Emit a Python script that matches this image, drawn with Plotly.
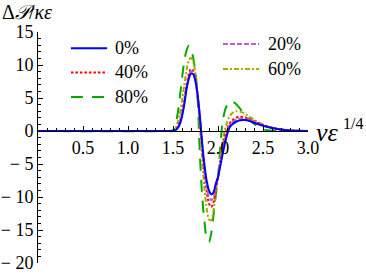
import plotly.graph_objects as go

# ---- data ----
x_vals = [0.0, 1.4, 1.5, 1.525, 1.55, 1.575, 1.6, 1.625, 1.65, 1.675, 1.7, 1.725, 1.75, 1.775,
          1.8, 1.825, 1.85, 1.875, 1.9, 1.925, 1.95, 1.975, 2.0, 2.025, 2.05, 2.075, 2.1,
          2.125, 2.15, 2.2, 2.25, 2.3, 2.35, 2.4, 2.5, 2.6, 2.7, 2.8, 2.9, 3.0]

y_0 = [0, 0, 0, 0.1, 0.4, 1.0, 2.2, 4.0, 6.3, 7.9, 8.7, 8.6, 7.5, 5.3,
       2.0, -2.0, -5.2, -7.6, -9.0, -9.6, -9.3, -8.0, -7.0, -5.3, -3.6, -2.0, -0.6,
       0.4, 0.9, 1.4, 1.62, 1.65, 1.5, 1.25, 0.8, 0.45, 0.22, 0.08, 0.02, 0]

y_20 = [0, 0, 0, 0.12, 0.5, 1.2, 2.5, 4.3, 6.6, 8.2, 9.05, 8.85, 7.7, 5.3,
        1.8, -2.3, -5.8, -8.4, -10.0, -10.5, -10.0, -8.5, -7.0, -5.0, -3.2, -1.5, -0.2,
        0.7, 1.2, 1.7, 1.9, 1.85, 1.65, 1.4, 0.85, 0.48, 0.22, 0.08, 0.02, 0]

y_40 = [0, 0, 0, 0.15, 0.6, 1.4, 2.8, 4.6, 6.9, 8.6, 9.4, 9.1, 7.8, 5.2,
        1.6, -2.6, -6.3, -9.2, -11.0, -11.5, -10.8, -9.0, -7.0, -4.8, -2.8, -1.0, 0.3,
        1.0, 1.5, 2.0, 2.15, 2.05, 1.8, 1.5, 0.9, 0.5, 0.22, 0.08, 0.02, 0]

y_60 = [0, 0, 0, 0.3, 1.2, 2.6, 4.6, 6.9, 9.2, 10.7, 11.1, 10.5, 8.6, 5.0,
        0.5, -4.5, -8.8, -11.8, -13.4, -13.5, -12.0, -9.5, -6.8, -4.0, -1.6, 0.1, 1.3,
        2.1, 2.6, 3.0, 2.9, 2.6, 2.15, 1.7, 1.0, 0.5, 0.22, 0.08, 0.02, 0]

y_80 = [0, 0, 0.1, 0.8, 2.5, 5.0, 8.0, 10.5, 12.2, 12.9, 12.5, 11.0, 9.0, 4.5,
        -4.0, -10.0, -13.8, -16.3, -16.8, -15.5, -12.8, -9.8, -7.2, -2.5, 1.3, 3.0, 3.9,
        4.4, 4.5, 4.1, 3.3, 2.3, 1.7, 1.1, 0.25, 0.02, 0, 0, 0, 0]

series_names = ["0%", "20%", "40%", "60%", "80%"]
series_vals = [y_0, y_20, y_40, y_60, y_80]
series_colors = ["#0000ff", "#bf5fbf", "#ff0000", "#aaaa00", "#00aa00"]
series_dash = ["solid", "5px,2px", "2.5px,2px", "5px,2px,2px,2px", "12px,9px"]

x_ticks = [0.5, 1.0, 1.5, 2.0, 2.5, 3.0]
x_ticklabels = ["0.5", "1.0", "1.5", "2.0", "2.5", "3.0"]
y_ticks = [15, 10, 5, 0, -5, -10, -15, -20]
y_ticklabels = ["15", "10", "5", "0", "\u2212 5", "\u2212 10", "\u2212 15", "\u2212 20"]

FONT = "Liberation Serif"

fig = go.Figure()
for i in [4, 3, 2, 1, 0]:
    fig.add_trace(go.Scatter(
        x=x_vals, y=series_vals[i], mode="lines", name=series_names[i],
        line=dict(color=series_colors[i], width=2, dash=series_dash[i], shape="spline", smoothing=0.8),
        showlegend=False, hoverinfo="skip"))

y_lo, y_hi = -20, 15
x_pos = (0 - y_lo) / (y_hi - y_lo)

fig.update_layout(
    width=366, height=274, autosize=False,
    margin=dict(l=38, r=58, t=32, b=11, autoexpand=False),
    paper_bgcolor="white", plot_bgcolor="white",
    font=dict(family=FONT, size=18, color="black"),
    xaxis=dict(range=[0, 3.0], anchor="free", position=x_pos, side="bottom", automargin=False,
               showline=True, linecolor="black", linewidth=1, showgrid=False, zeroline=False,
               tickvals=x_ticks, ticktext=x_ticklabels, ticks="inside", ticklen=5,
               tickcolor="black", tickwidth=1,
               minor=dict(dtick=0.1, ticks="inside", ticklen=3, tickcolor="black", tickwidth=1),
               tickfont=dict(family=FONT, size=18)),
    yaxis=dict(range=[y_lo, y_hi], domain=[0, 1], automargin=False,
               showline=True, linecolor="black", linewidth=1,
               showgrid=False, zeroline=False,
               tickvals=y_ticks, ticktext=y_ticklabels, ticks="inside", ticklen=5,
               tickcolor="black", tickwidth=1,
               minor=dict(dtick=1, ticks="inside", ticklen=3, tickcolor="black", tickwidth=1),
               tickfont=dict(family=FONT, size=18)),
)

legend_rows = [
    (0, 0.122, 0.256, 0.930, 0.278),
    (2, 0.122, 0.256, 0.825, 0.278),
    (4, 0.122, 0.256, 0.719, 0.278),
    (1, 0.685, 0.819, 0.948, 0.844),
    (3, 0.685, 0.819, 0.840, 0.844),
]
for idx, lx0, lx1, ly, tx in legend_rows:
    fig.add_shape(type="line", xref="paper", yref="paper", x0=lx0, x1=lx1, y0=ly, y1=ly,
                  line=dict(color=series_colors[idx], width=2, dash=series_dash[idx]))
    fig.add_annotation(xref="paper", yref="paper", x=tx, y=ly, xanchor="left", yanchor="middle",
                       text=series_names[idx], showarrow=False, font=dict(family=FONT, size=18))

fig.add_annotation(xref="paper", yref="paper", x=-0.14, y=1.0, yshift=20, xanchor="left",
                   yanchor="middle", showarrow=False,
                   text="\u0394<i>\U0001D4AB</i>/<i>\u03ba\u03b5</i>", font=dict(family=FONT, size=20))
fig.add_annotation(xref="paper", yref="paper", x=1.0, y=x_pos, xshift=6, yshift=-1, xanchor="left",
                   yanchor="middle", showarrow=False,
                   text="<i>\u03bd\u03b5</i>", font=dict(family=FONT, size=26))
fig.add_annotation(xref="paper", yref="paper", x=1.0, y=x_pos, xshift=33, yshift=8, xanchor="left",
                   yanchor="middle", showarrow=False,
                   text="1/4", font=dict(family=FONT, size=16))

fig.write_html("out.html", config={"displayModeBar": False},
               post_script="document.body.style.margin='0px';")
